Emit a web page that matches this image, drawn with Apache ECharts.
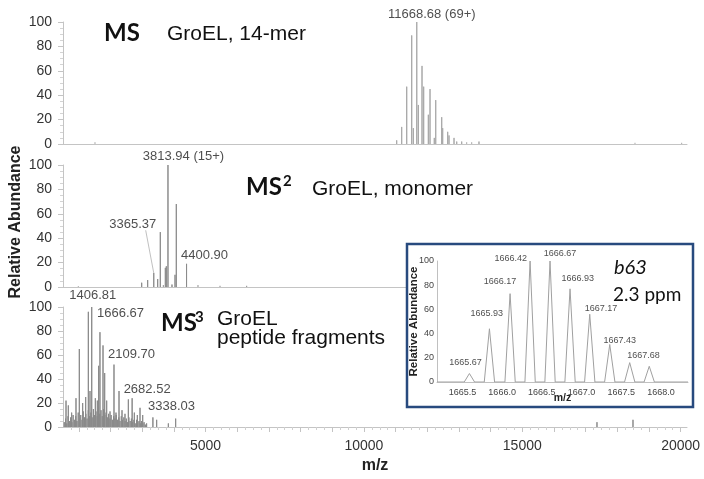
<!DOCTYPE html>
<html><head><meta charset="utf-8">
<script src="https://cdn.jsdelivr.net/npm/echarts@6/dist/echarts.min.js"></script>
<style>html,body{margin:0;padding:0;background:#fff}#c{width:704px;height:479px}</style>
</head><body><div id="c"></div>
<script>
// ---------------- data (m/z, relative abundance) ----------------
const ms1Peaks = [
  [1510,1.5],[11035,3],[11193,14],[11351,47],[11509,89],[11560,13],[11668.68,100],[11718,32],
  [11834,64],[11887,47],[12034,24],[12087,45],[12222,5],[12267,36],[12456,22],[12487,13],
  [12645,10],[12687,7],[12845,5],[12930,2],[13087,2],[13245,1.5],[13403,1.5],[13633,2],
  [18558,1],[20032,1]
];
const ms2Peaks = [
  [983,0.6],[2984,3.5],[3173,5.7],[3365.37,11.5],[3489,6.5],[3572,45],[3667,1.6],[3731,15.7],
  [3762,17],[3813.94,100],[3941,2],[4036,10],[4077,68],[4400.90,19],[4762,1.6],[5457,1],[6299,1]
];
const ms3Peaks = [
  [595,22],[668,18],[773,12],[910,24],[1015,65],[1121,20],[1216,25],[1300,96],[1352,30],
  [1406.81,100],[1521,24],[1584,22],[1625,51],[1666.67,79],[1763,68],[1816,45],[1879,22],
  [1984,13],[2109.70,52],[2173,12],[2268,30],[2363,14],[2457,11],[2563,23],[2682.52,24],
  [2752,12],[2847,10],[2931,16],[3016,10],[3338.03,8],[3457,6],[3826,3],[4057,7],
  [17358,4],[18495,6]
];
const ms3Noise = [
  [540,4],[580,7],[620,3],[660,9],[700,5],[740,8],[780,4],[820,10],[860,6],[900,9],[940,5],
  [980,12],[1020,7],[1060,10],[1100,6],[1140,13],[1180,8],[1220,11],[1260,7],[1300,14],
  [1340,9],[1380,12],[1420,8],[1460,15],[1500,10],[1540,13],[1580,9],[1620,16],[1660,11],
  [1700,14],[1740,9],[1780,15],[1820,10],[1860,12],[1900,8],[1940,11],[1980,7],[2020,10],
  [2060,6],[2100,9],[2140,7],[2180,10],[2220,6],[2260,8],[2300,5],[2340,9],[2380,6],[2420,8],
  [2460,5],[2500,7],[2540,4],[2580,8],[2620,5],[2660,7],[2700,4],[2740,6],[2780,3],[2820,6],
  [2860,4],[2900,5],[2940,3],[2980,5],[3020,3],[3060,4],[3100,2],[3140,3]
];
// labelled peaks: [m/z, height, text]
const ms1Labels = [[11668.68,100,'11668.68 (69+)']];
const ms2Labels = [[3813.94,100,'3813.94 (15+)'],[3365.37,11.5,'3365.37'],[4400.90,19,'4400.90']];
const ms3Labels = [[1406.81,100,'1406.81'],[1666.67,79,'1666.67'],[2109.70,52,'2109.70'],[2682.52,24,'2682.52'],[3338.03,8,'3338.03']];
// inset: b63 isotope cluster
const insetPeaks = [
  [1665.588,7],[1665.840,44],[1666.100,73],[1666.352,100],[1666.603,100],
  [1666.855,77],[1667.103,56],[1667.355,31],[1667.606,16],[1667.852,13]
];
const insetLabels = ['1665.67','1665.93','1666.17','1666.42','1666.67','1666.93','1667.17','1667.43','1667.68',''];
const mainTickLabels = [5000,10000,15000,20000];
const insetTickLabels = [1665.5,1666.0,1666.5,1667.0,1667.5,1668.0];

// ---------------- layout/styles ----------------
const XMIN = 500, XMAX = 20200;
const IXMIN = 1665.18, IXMAX = 1668.34;
const FONT = 'Arial, "Liberation Sans", sans-serif';
const AX = '#c4c4c4';

function sticks(peaks){
  const s = peaks.slice().sort((a,b)=>a[0]-b[0]);
  const d = [];
  s.forEach(([m,h]) => { d.push([m,0],[m,h],[m,0],[m,'-']); });
  return d;
}
function tri(peaks, hw){
  const d = [[IXMIN,0]];
  peaks.forEach(([m,h]) => { d.push([m-hw,0],[m,h],[m+hw,0]); });
  d.push([IXMAX,0]);
  return d;
}
const mainOffsets = {
  0: [[15,-8]],
  1: [[15.5,-9],[-21,-49],[18,-8]],
  2: [[1,-11.5],[20.5,-18.7],[17.5,-10],[15,-9],[18.6,-10.5]]
};
const insetOffsets = [[-4,-11.5],[-2.6,-15.6],[-10,-12],[-19.3,-2.7],[10,-7.7],[7.7,-10.6],[11.3,-5.4],[10,-3.7],[13.7,-7.2],[0,0]];

function labelSeries(xi, yi, labels, offs, size, z){
  return {
    type:'scatter', xAxisIndex: xi, yAxisIndex: yi, symbolSize: 0, z: z||3, silent:true,
    data: labels.map((l,i)=>({value:[l[0],l[1]], name:l[2],
      label:{show:!!l[2], position:'inside', offset:offs[i], formatter:'{b}',
        fontSize:size, color:'#222', fontFamily:FONT}}))
  };
}

const grids = [
  {left:63, width:624, top:22, height:122},
  {left:63, width:624, top:165, height:122},
  {left:63, width:624, top:307, height:120},
  {left:437, width:251, top:261, height:121}
];
const yMain = i => ({
  gridIndex:i, type:'value', min:0, max:100, interval:20,
  axisLine:{show:true, lineStyle:{color:AX}},
  axisTick:{show:true, length:5, lineStyle:{color:AX}},
  minorTick:{show:true, splitNumber:4, length:3, lineStyle:{color:'#d4d4d4'}},
  splitLine:{show:false},
  axisLabel:{fontSize:14, color:'#333', margin:11, fontFamily:FONT}
});
const xPlain = i => ({
  gridIndex:i, type:'value', min:XMIN, max:XMAX,
  axisLine:{show:true, onZero:false, lineStyle:{color:AX}},
  axisTick:{show:false}, axisLabel:{show:false}, splitLine:{show:false}
});
const majorTicks = [], minorTicks = [];
for (let v = 1000; v <= 20000; v += 1000) majorTicks.push(v);
for (let v = 750; v <= 20200; v += 250) if (v % 1000) minorTicks.push(v);

const option = {
  animation:false,
  grid: grids,
  xAxis: [
    xPlain(0), xPlain(1),
    {gridIndex:2, type:'value', min:XMIN, max:XMAX,
     axisLine:{show:true, onZero:false, lineStyle:{color:AX}},
     axisTick:{show:true, length:5, customValues:majorTicks, lineStyle:{color:AX}},
     axisLabel:{customValues:mainTickLabels, formatter:v=>String(v), fontSize:14, color:'#333', margin:12, fontFamily:FONT},
     splitLine:{show:false},
     name:'m/z', nameLocation:'middle', nameGap:31,
     nameTextStyle:{fontSize:16, fontWeight:'bold', color:'#222', fontFamily:FONT}},
    {gridIndex:2, type:'value', min:XMIN, max:XMAX, position:'bottom',
     axisLine:{show:false, onZero:false}, axisLabel:{show:false}, splitLine:{show:false},
     axisTick:{show:true, length:3, customValues:minorTicks, lineStyle:{color:'#d0d0d0'}}},
    {gridIndex:3, type:'value', min:IXMIN, max:IXMAX, z:60,
     axisLine:{show:true, onZero:false, lineStyle:{color:'#c0c0c0'}},
     axisTick:{show:false}, splitLine:{show:false},
     axisLabel:{customValues:insetTickLabels, formatter:v=>v.toFixed(1), fontSize:9, color:'#444', margin:6, fontFamily:FONT},
     name:'m/z', nameLocation:'middle', nameGap:11, nameMoveOverlap:false,
     nameTextStyle:{fontSize:10.5, fontWeight:'bold', color:'#222', fontFamily:FONT}}
  ],
  yAxis: [
    yMain(0), yMain(1), yMain(2),
    {gridIndex:3, type:'value', min:0, max:100, interval:20, z:60,
     axisLine:{show:true, lineStyle:{color:'#c0c0c0'}}, axisTick:{show:false}, splitLine:{show:false},
     axisLabel:{fontSize:9, color:'#444', margin:3, fontFamily:FONT},
     name:'Relative Abundance', nameLocation:'middle', nameGap:17, nameRotate:90, nameMoveOverlap:false,
     nameTextStyle:{fontSize:11.5, fontWeight:'bold', color:'#222', fontFamily:FONT}}
  ],
  series: [
    {type:'line', xAxisIndex:0, yAxisIndex:0, data:sticks(ms1Peaks), showSymbol:false, symbol:'none',
     connectNulls:false, lineStyle:{color:'#a8a8a8', width:1}, silent:true},
    {type:'line', xAxisIndex:1, yAxisIndex:1, data:sticks(ms2Peaks), showSymbol:false, symbol:'none',
     connectNulls:false, lineStyle:{color:'#8c8c8c', width:1}, silent:true},
    {type:'line', xAxisIndex:1, yAxisIndex:1, data:[[3110,46.5],[3365.37,11.5]], showSymbol:false, symbol:'none',
     lineStyle:{color:'#b0b0b0', width:0.8}, silent:true},
    {type:'line', xAxisIndex:2, yAxisIndex:2, data:sticks(ms3Peaks.concat(ms3Noise)), showSymbol:false, symbol:'none',
     connectNulls:false, lineStyle:{color:'#8a8a8a', width:1}, silent:true},
    labelSeries(0, 0, ms1Labels, mainOffsets[0], 13),
    labelSeries(1, 1, ms2Labels, mainOffsets[1], 13),
    labelSeries(2, 2, ms3Labels, mainOffsets[2], 13),
    {type:'line', xAxisIndex:4, yAxisIndex:3, data:tri(insetPeaks, 0.065), showSymbol:false, symbol:'none', z:60,
     lineStyle:{color:'#a0a0a0', width:1}, silent:true},
    labelSeries(4, 3, insetPeaks.map((p,i)=>[p[0],p[1],insetLabels[i]]), insetOffsets, 9, 61)
  ],
  graphic: { elements: [
    {type:'rect', z:50, shape:{x:407, y:244, width:286, height:163},
     style:{fill:'#fff', stroke:'#284a7e', lineWidth:2.5}},
    {type:'text', z:70, x:15.5, y:222, rotation:Math.PI/2,
     style:{text:'Relative Abundance', font:'bold 16px '+FONT, fill:'#222', textAlign:'center', textVerticalAlign:'middle'}},
    {type:'text', z:70, left:104, top:21, style:{text:'MS', font:'bold 24px Lato', fill:'#111'}},
    {type:'text', z:70, left:167, top:24, style:{text:'GroEL, 14-mer', font:'21px '+FONT, fill:'#111'}},
    {type:'text', z:70, left:246, top:175, style:{text:'MS', font:'bold 24px Lato', fill:'#111'}},
    {type:'text', z:70, left:283, top:174, style:{text:'2', font:'bold 15px Lato', fill:'#111'}},
    {type:'text', z:70, left:312, top:179, style:{text:'GroEL, monomer', font:'21px '+FONT, fill:'#111'}},
    {type:'text', z:70, left:161, top:311, style:{text:'MS', font:'bold 24px Lato', fill:'#111'}},
    {type:'text', z:70, left:195, top:310, style:{text:'3', font:'bold 15px Lato', fill:'#111'}},
    {type:'text', z:70, left:217, top:309, style:{text:'GroEL', font:'21px '+FONT, fill:'#111'}},
    {type:'text', z:70, left:217, top:328, style:{text:'peptide fragments', font:'21px '+FONT, fill:'#111'}},
    {type:'text', z:70, left:614, top:258, style:{text:'b63', font:'italic 20px Lato', fill:'#111'}},
    {type:'text', z:70, left:613, top:285, style:{text:'2.3 ppm', font:'19px Lato', fill:'#111'}}
  ]}
};
const chart = echarts.init(document.getElementById('c'), null, {renderer:'canvas'});
chart.setOption(option);
</script>
</body></html>
